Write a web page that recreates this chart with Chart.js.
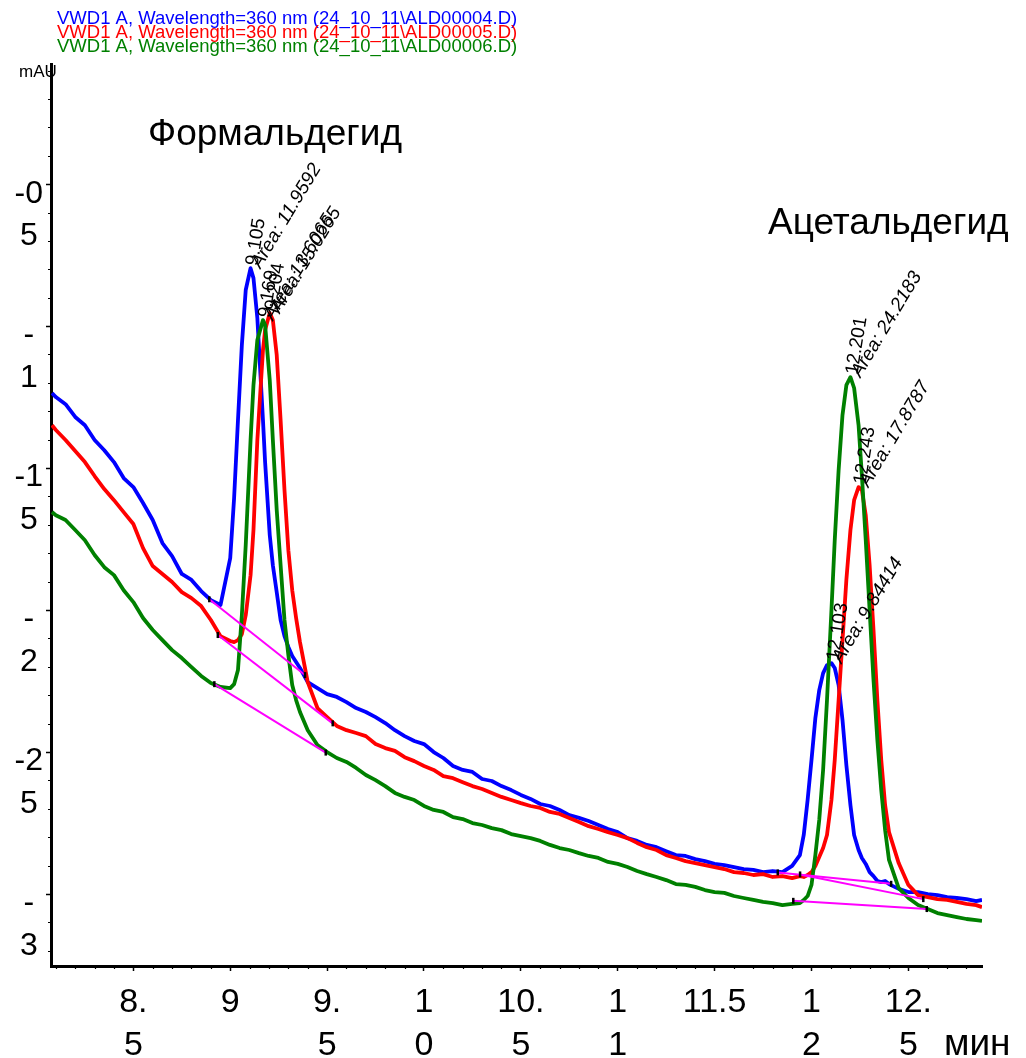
<!DOCTYPE html>
<html>
<head>
<meta charset="utf-8">
<script src="https://cdn.jsdelivr.net/npm/chart.js@4.4.0/dist/chart.umd.min.js"></script>
<style>
  html, body { margin: 0; padding: 0; background: #fff; }
  #wrap { width: 1026px; height: 1058px; }
</style>
</head>
<body>
<div id="wrap"><canvas id="chrom" width="1026" height="1058"></canvas></div>
<script>
// retention time, min (shared by all three runs; denser around the peaks)
const timeMin = [
  8.08, 8.10, 8.15, 8.20, 8.25, 8.30, 8.35, 8.40, 8.45, 8.50, 8.55, 8.60, 8.65, 8.70, 8.75, 8.80, 8.85, 8.90, 8.95,
  9.00, 9.02, 9.04, 9.06, 9.08, 9.105, 9.12, 9.14, 9.169, 9.18, 9.204, 9.22, 9.24, 9.26, 9.28, 9.30, 9.32, 9.34, 9.36,
  9.40, 9.45, 9.50, 9.55, 9.60, 9.65, 9.70, 9.75, 9.80, 9.85, 9.90, 9.95, 10.00, 10.05, 10.10, 10.15, 10.20, 10.25,
  10.30, 10.35, 10.40, 10.45, 10.50, 10.55, 10.60, 10.65, 10.70, 10.75, 10.80, 10.85, 10.90, 10.95, 11.00, 11.05,
  11.10, 11.15, 11.20, 11.25, 11.30, 11.35, 11.40, 11.45, 11.50, 11.55, 11.60, 11.65, 11.70, 11.75, 11.80, 11.85, 11.90,
  11.94, 11.96, 11.98, 12.00, 12.02, 12.04, 12.06, 12.08, 12.103, 12.12, 12.14, 12.16, 12.18, 12.201, 12.22, 12.243,
  12.26, 12.28, 12.30, 12.32, 12.34, 12.36, 12.38, 12.40,
  12.45, 12.50, 12.55, 12.60, 12.65, 12.70, 12.75, 12.80, 12.85, 12.88
];

// signal, mAU
const vwd04 = [
  -1.236, -1.250, -1.275, -1.320, -1.349, -1.401, -1.437, -1.479, -1.535, -1.567, -1.623, -1.683, -1.764, -1.810, -1.873, -1.894, -1.933, -1.965, -1.982,
  -1.817, -1.606, -1.331, -1.067, -0.873, -0.796, -0.831, -0.972, -1.331, -1.479, -1.736, -1.842, -1.937, -2.035, -2.092, -2.130, -2.162, -2.183, -2.204,
  -2.254, -2.275, -2.296, -2.306, -2.324, -2.345, -2.359, -2.377, -2.398, -2.423, -2.444, -2.461, -2.472, -2.500, -2.521, -2.549, -2.563, -2.570,
  -2.595, -2.602, -2.620, -2.634, -2.651, -2.665, -2.683, -2.690, -2.704, -2.722, -2.732, -2.743, -2.757, -2.771, -2.782, -2.803,
  -2.813, -2.827, -2.835, -2.849, -2.863, -2.866, -2.877, -2.884, -2.894, -2.898, -2.905, -2.912, -2.915, -2.923, -2.919, -2.923, -2.901,
  -2.863, -2.792, -2.669, -2.528, -2.380, -2.282, -2.222, -2.194, -2.187, -2.204, -2.264, -2.387, -2.546, -2.687, -2.792, -2.845,
  -2.873, -2.894, -2.923, -2.937, -2.954, -2.958, -2.954, -2.965,
  -2.982, -2.993, -2.993, -3.000, -3.004, -3.011, -3.014, -3.018, -3.025, -3.021
];
const vwd05 = [
  -1.349, -1.366, -1.401, -1.440, -1.479, -1.528, -1.574, -1.613, -1.655, -1.697, -1.782, -1.845, -1.873, -1.901, -1.937, -1.958, -1.986, -2.035, -2.092,
  -2.109, -2.113, -2.106, -2.085, -2.018, -1.877, -1.718, -1.401, -1.085, -1.014, -0.954, -0.979, -1.102, -1.331, -1.577, -1.789, -1.930, -2.028, -2.113,
  -2.254, -2.345, -2.377, -2.408, -2.423, -2.433, -2.444, -2.472, -2.486, -2.496, -2.518, -2.532, -2.549, -2.563, -2.585, -2.592, -2.606, -2.620,
  -2.630, -2.644, -2.658, -2.669, -2.680, -2.690, -2.697, -2.711, -2.718, -2.732, -2.746, -2.761, -2.771, -2.782, -2.792, -2.803,
  -2.820, -2.835, -2.845, -2.863, -2.873, -2.884, -2.891, -2.898, -2.905, -2.912, -2.923, -2.926, -2.933, -2.930, -2.940, -2.937, -2.944,
  -2.937, -2.940, -2.933, -2.923, -2.901, -2.870, -2.838, -2.792, -2.669, -2.528, -2.317, -2.106, -1.894, -1.718, -1.613, -1.567,
  -1.577, -1.666, -1.842, -2.070, -2.317, -2.528, -2.687, -2.782,
  -2.891, -2.968, -3.004, -3.011, -3.018, -3.021, -3.028, -3.035, -3.039, -3.046
];
const vwd06 = [
  -1.655, -1.666, -1.683, -1.718, -1.754, -1.806, -1.849, -1.877, -1.930, -1.972, -2.028, -2.070, -2.106, -2.141, -2.169, -2.201, -2.232, -2.257, -2.271,
  -2.275, -2.261, -2.211, -2.018, -1.771, -1.401, -1.208, -1.049, -0.979, -0.996, -1.190, -1.401, -1.648, -1.842, -2.035, -2.158, -2.264, -2.317, -2.359,
  -2.423, -2.475, -2.500, -2.521, -2.535, -2.556, -2.581, -2.599, -2.620, -2.644, -2.658, -2.669, -2.690, -2.704, -2.711, -2.729, -2.736, -2.750,
  -2.757, -2.768, -2.775, -2.789, -2.796, -2.803, -2.813, -2.827, -2.838, -2.845, -2.856, -2.866, -2.873, -2.887, -2.894, -2.905,
  -2.919, -2.930, -2.940, -2.951, -2.965, -2.968, -2.975, -2.986, -2.993, -2.996, -3.007, -3.014, -3.021, -3.028, -3.032, -3.039, -3.035,
  -3.032, -3.021, -3.007, -2.968, -2.863, -2.739, -2.563, -2.317, -2.000, -1.754, -1.507, -1.313, -1.208, -1.180, -1.218, -1.349,
  -1.525, -1.754, -2.000, -2.246, -2.458, -2.634, -2.775, -2.880,
  -2.979, -3.014, -3.039, -3.053, -3.067, -3.074, -3.081, -3.088, -3.092, -3.095
];

// integration baselines: pairs of (start, end) per peak
const base04Time = [8.892, 9.386, 11.826, 12.411];
const base04Level = [-1.962, -2.229, -2.924, -2.964];
const base05Time = [8.936, 9.529, 11.941, 12.577];
const base05Level = [-2.088, -2.399, -2.931, -3.018];
const base06Time = [8.918, 9.493, 11.906, 12.595];
const base06Level = [-2.261, -2.502, -3.024, -3.053];

// peak apex times and integrated areas
const peak04Time = [9.105, 12.103];
const peak04Area = ['11.9592', '9.84414'];
const peak05Time = [9.204, 12.243];
const peak05Area = ['15.0265', '17.8787'];
const peak06Time = [9.169, 12.201];
const peak06Area = ['13.6065', '24.2183'];

const runNames = [
  'VWD1 A, Wavelength=360 nm (24_10_11\\ALD00004.D)',
  'VWD1 A, Wavelength=360 nm (24_10_11\\ALD00005.D)',
  'VWD1 A, Wavelength=360 nm (24_10_11\\ALD00006.D)'
];
const runColors = ['#0000ff', '#ff0000', '#008000'];

const timeTicks = [8.5, 9, 9.5, 10, 10.5, 11, 11.5, 12, 12.5];
const timeTickText = [['8.', '5'], ['9'], ['9.', '5'], ['1', '0'], ['10.', '5'], ['1', '1'], ['11.5'], ['1', '2'], ['12.', '5']];
const levelTicks = [-0.5, -1, -1.5, -2, -2.5, -3];
const levelTickText = [['-0', '5'], ['-', '1'], ['-1', '5'], ['-', '2'], ['-2', '5'], ['-', '3']];

const FONT = '"Liberation Sans", Arial, sans-serif';
Chart.defaults.font.family = FONT;
Chart.defaults.color = '#000';

function pointsOf(times, values) {
  return times.map((t, i) => ({ x: t, y: values[i] }));
}

function traceSet(i, values, order) {
  return {
    label: runNames[i],
    data: pointsOf(timeMin, values),
    borderColor: runColors[i],
    borderWidth: 3.8,
    borderJoinStyle: 'round',
    pointRadius: 0,
    tension: 0,
    order: order
  };
}

function baselineSets(times, levels, order) {
  const out = [];
  for (let k = 0; k < times.length; k += 2) {
    out.push({
      label: 'baseline',
      data: pointsOf(times.slice(k, k + 2), levels.slice(k, k + 2)),
      borderColor: '#ff00ff',
      borderWidth: 2,
      pointStyle: 'line',
      pointRotation: 90,
      pointRadius: 3,
      pointBorderColor: '#000',
      pointBorderWidth: 2.5,
      tension: 0,
      order: order
    });
  }
  return out;
}

function findTick(list, text, value) {
  const i = list.findIndex(v => Math.abs(v - value) < 1e-6);
  return i < 0 ? '' : text[i];
}

// small ticks every 0.1 along both axes
const minorTicks = {
  id: 'minorTicks',
  afterDraw(chart) {
    const { ctx, scales: { x, y }, chartArea } = chart;
    ctx.save();
    ctx.strokeStyle = '#000';
    ctx.lineWidth = 1.2;
    ctx.beginPath();
    for (let k = Math.ceil(x.min * 10); k <= Math.floor(x.max * 10); k++) {
      if (k % 5 === 0) continue;
      const px = Math.round(x.getPixelForValue(k / 10)) + 0.5;
      ctx.moveTo(px, chartArea.bottom);
      ctx.lineTo(px, chartArea.bottom + 3);
    }
    for (let k = Math.ceil(y.min * 10); k <= Math.floor(y.max * 10); k++) {
      if (k % 5 === 0) continue;
      const py = Math.round(y.getPixelForValue(k / 10)) + 0.5;
      ctx.moveTo(chartArea.left, py);
      ctx.lineTo(chartArea.left - 3, py);
    }
    ctx.stroke();
    ctx.restore();
  }
};

// run names, unit labels, compound names and peak annotations
const chromText = {
  id: 'chromText',
  afterDraw(chart) {
    const { ctx, scales: { x, y } } = chart;
    ctx.save();
    ctx.textAlign = 'left';
    ctx.textBaseline = 'alphabetic';

    ctx.font = '18.5px ' + FONT;
    runNames.forEach((name, i) => {
      ctx.fillStyle = runColors[i];
      ctx.fillText(name, 57, 24 + i * 14);
    });

    ctx.fillStyle = '#000';
    ctx.font = '17px ' + FONT;
    ctx.fillText('mAU', 19, 77);

    ctx.font = '37px ' + FONT;
    ctx.fillText('Формальдегид', 148, 145);
    ctx.fillText('Ацетальдегид', 768, 234);

    ctx.font = '37px ' + FONT;
    ctx.fillText('мин', 944, 1055);

    const runs = [
      [vwd04, peak04Time, peak04Area],
      [vwd05, peak05Time, peak05Area],
      [vwd06, peak06Time, peak06Area]
    ];
    runs.forEach(([values, times, areas]) => {
      times.forEach((t, j) => {
        const idx = timeMin.indexOf(t);
        const px = x.getPixelForValue(t);
        const py = y.getPixelForValue(values[idx]);

        ctx.save();
        ctx.translate(px + 7, py - 2);
        ctx.rotate(-81 * Math.PI / 180);
        ctx.font = '19px ' + FONT;
        ctx.fillText(t.toFixed(3), 0, 0);
        ctx.restore();

        ctx.save();
        ctx.translate(px + 10, py + 1);
        ctx.rotate(-59 * Math.PI / 180);
        ctx.font = 'italic 19px ' + FONT;
        ctx.fillText('Area: ' + areas[j], 0, 0);
        ctx.restore();
      });
    });
    ctx.restore();
  }
};

new Chart(document.getElementById('chrom'), {
  type: 'line',
  data: {
    datasets: [
      traceSet(2, vwd06, 4),
      ...baselineSets(base06Time, base06Level, 1),
      traceSet(1, vwd05, 5),
      ...baselineSets(base05Time, base05Level, 2),
      traceSet(0, vwd04, 6),
      ...baselineSets(base04Time, base04Level, 3)
    ]
  },
  options: {
    responsive: false,
    animation: false,
    events: [],
    layout: { padding: { left: 0, top: 64, right: 44, bottom: 0 } },
    plugins: {
      legend: { display: false },
      tooltip: { enabled: false },
      title: { display: false }
    },
    scales: {
      x: {
        type: 'linear',
        position: 'bottom',
        min: 8.075,
        max: 12.88,
        border: { display: true, color: '#000', width: 3 },
        grid: { drawOnChartArea: false, drawTicks: true, tickLength: 5, tickColor: '#000', tickWidth: 1.5 },
        ticks: {
          stepSize: 0.5,
          includeBounds: false,
          autoSkip: false,
          maxRotation: 0,
          minRotation: 0,
          padding: 11,
          color: '#000',
          font: { size: 34, lineHeight: 1.24 },
          callback: v => findTick(timeTicks, timeTickText, v)
        },
        afterFit(scale) { scale.height = 92; }
      },
      y: {
        type: 'linear',
        position: 'left',
        min: -3.2535,
        max: -0.077,
        border: { display: true, color: '#000', width: 3 },
        grid: { drawOnChartArea: false, drawTicks: true, tickLength: 5, tickColor: '#000', tickWidth: 1.5 },
        ticks: {
          stepSize: 0.5,
          includeBounds: false,
          autoSkip: false,
          crossAlign: 'center',
          padding: 3,
          labelOffset: 31,
          color: '#000',
          font: { size: 32, lineHeight: 1.34 },
          callback: v => findTick(levelTicks, levelTickText, v)
        },
        afterFit(scale) { scale.width = 51; }
      }
    }
  },
  plugins: [minorTicks, chromText]
});
</script>
</body>
</html>
